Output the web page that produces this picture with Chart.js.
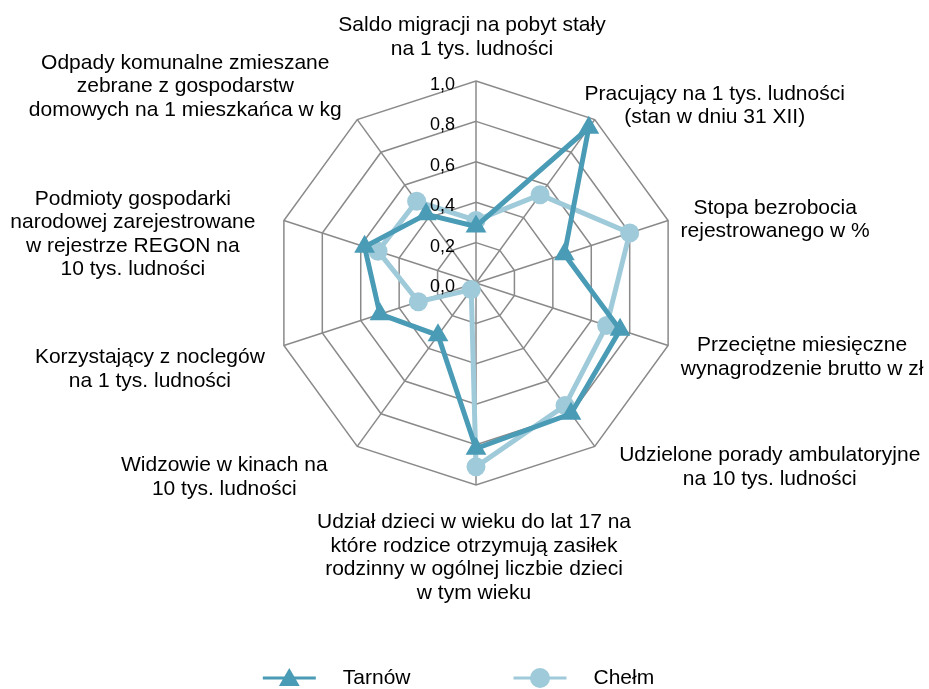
<!DOCTYPE html>
<html lang="pl">
<head>
<meta charset="utf-8">
<title>Tarnów i Chełm – wskaźniki</title>
<script src="https://cdn.jsdelivr.net/npm/chart.js@4.4.1/dist/chart.umd.min.js"></script>
<style>
  html, body { margin: 0; padding: 0; background: #fff; }
  #wrap { width: 929px; height: 689px; }
</style>
</head>
<body>
<div id="wrap"><canvas id="radarChart" width="929" height="689"></canvas></div>
<script>
/* globals Chart */

// Axis names, one array of lines per spoke (clockwise from the top)
const categories = [
    ['Saldo migracji na pobyt stały', 'na 1 tys. ludności'],
    ['Pracujący na 1 tys. ludności', '(stan w dniu 31 XII)'],
    ['Stopa bezrobocia', 'rejestrowanego w %'],
    ['Przeciętne miesięczne', 'wynagrodzenie brutto w zł'],
    ['Udzielone porady ambulatoryjne', 'na 10 tys. ludności'],
    ['Udział dzieci w wieku do lat 17 na', 'które rodzice otrzymują zasiłek', 'rodzinny w ogólnej liczbie dzieci', 'w tym wieku'],
    ['Widzowie w kinach na', '10 tys. ludności'],
    ['Korzystający z noclegów', 'na 1 tys. ludności'],
    ['Podmioty gospodarki', 'narodowej zarejestrowane', 'w rejestrze REGON na', '10 tys. ludności'],
    ['Odpady komunalne zmieszane', 'zebrane z gospodarstw', 'domowych na 1 mieszkańca w kg']
];

const seriesNames = ['Tarnów', 'Chełm'];
const tarnowValues = [0.28, 0.95, 0.46, 0.75, 0.80, 0.82, 0.32, 0.50, 0.58, 0.42];
const chelmValues = [0.31, 0.54, 0.80, 0.68, 0.75, 0.91, 0.04, 0.30, 0.51, 0.50];
const tickValues = [0, 0.2, 0.4, 0.6, 0.8, 1.0];

const FONT = 'Arial, "Liberation Sans", sans-serif';
const TARNOW_COLOR = '#4a9bb5';
const CHELM_COLOR = '#9fcad9';
const GRID_COLOR = '#8a8a8a';

// Where each axis name sits: centre x and first baseline, relative to the outer vertex
const labelOffsets = [
    [-4, -50], [120, -20], [107, -7], [134, 6], [175, 15],
    [-2, 43], [-133, 25], [-134, 18], [-151, -16], [-172, -51]
];
const labelLineHeight = 23.5;

const formatTick = v => v.toFixed(1).replace('.', ',');

function drawMarker(ctx, style, x, y, r) {
    ctx.beginPath();
    if (style === 'triangle') {
        ctx.moveTo(x, y - r);
        ctx.lineTo(x + r * Math.sqrt(3) / 2, y + r / 2);
        ctx.lineTo(x - r * Math.sqrt(3) / 2, y + r / 2);
        ctx.closePath();
    } else {
        ctx.arc(x, y, r, 0, Math.PI * 2);
    }
    ctx.fill();
}

const axisLabels = {
    id: 'axisLabels',
    afterDatasetsDraw(chart) {
        const scale = chart.scales.r;
        const ctx = chart.ctx;
        ctx.save();
        ctx.fillStyle = '#000';

        // value ticks on the vertical spoke
        ctx.font = `18px ${FONT}`;
        ctx.textAlign = 'right';
        ctx.textBaseline = 'middle';
        scale.ticks.forEach(t => {
            const y = scale.yCenter - scale.getDistanceFromCenterForValue(t.value);
            ctx.fillText(formatTick(t.value), scale.xCenter - 21, y + 4);
        });

        // spoke names
        ctx.font = `21px ${FONT}`;
        ctx.textAlign = 'center';
        ctx.textBaseline = 'alphabetic';
        chart.data.labels.forEach((lines, i) => {
            const p = scale.getPointPosition(i, scale.drawingArea);
            const [dx, dy] = labelOffsets[i];
            lines.forEach((line, k) => {
                ctx.fillText(line, p.x + dx, p.y + dy + k * labelLineHeight);
            });
        });
        ctx.restore();
    }
};

const lineLegend = {
    id: 'lineLegend',
    afterDraw(chart) {
        const ctx = chart.ctx;
        const iconW = 53, textGap = 27, itemGap = 103;
        const y = chart.height - 11;
        ctx.save();
        ctx.font = `21px ${FONT}`;
        const widths = chart.data.datasets.map(ds => iconW + textGap + ctx.measureText(ds.label).width);
        const total = widths.reduce((a, b) => a + b, 0) + itemGap * (widths.length - 1);
        let x = (chart.width - total) / 2 - 6;
        chart.data.datasets.forEach((ds, i) => {
            ctx.strokeStyle = ds.borderColor;
            ctx.fillStyle = ds.borderColor;
            ctx.lineWidth = 3;
            ctx.beginPath();
            ctx.moveTo(x, y);
            ctx.lineTo(x + iconW, y);
            ctx.stroke();
            drawMarker(ctx, ds.pointStyle, x + iconW / 2, y + (ds.pointStyle === 'triangle' ? 2 : 0), ds.pointStyle === 'triangle' ? 12 : 10);
            ctx.fillStyle = '#000';
            ctx.textAlign = 'left';
            ctx.textBaseline = 'middle';
            ctx.fillText(ds.label, x + iconW + textGap, y);
            x += widths[i] + itemGap;
        });
        ctx.restore();
    }
};

const ctx = document.getElementById('radarChart').getContext('2d');
new Chart(ctx, {
    type: 'radar',
    data: {
        labels: categories,
        datasets: [
            {
                label: seriesNames[0],
                data: tarnowValues,
                borderColor: TARNOW_COLOR,
                backgroundColor: TARNOW_COLOR,
                pointBackgroundColor: TARNOW_COLOR,
                pointBorderColor: TARNOW_COLOR,
                borderWidth: 5,
                pointStyle: 'triangle',
                pointRadius: 12,
                pointBorderWidth: 0,
                fill: false
            },
            {
                label: seriesNames[1],
                data: chelmValues,
                borderColor: CHELM_COLOR,
                backgroundColor: CHELM_COLOR,
                pointBackgroundColor: CHELM_COLOR,
                pointBorderColor: CHELM_COLOR,
                borderWidth: 5,
                pointStyle: 'circle',
                pointRadius: 9.5,
                pointBorderWidth: 0,
                fill: false
            }
        ]
    },
    options: {
        responsive: false,
        animation: false,
        events: [],
        layout: { padding: { left: 23, right: 0, top: 81, bottom: 204 } },
        plugins: {
            legend: { display: false },
            tooltip: { enabled: false }
        },
        scales: {
            r: {
                min: tickValues[0],
                max: tickValues[tickValues.length - 1],
                ticks: { stepSize: 0.2, display: false },
                pointLabels: { display: false },
                grid: { color: GRID_COLOR, lineWidth: 1.5 },
                angleLines: { color: GRID_COLOR, lineWidth: 1.5 }
            }
        }
    },
    plugins: [axisLabels, lineLegend]
});
</script>
</body>
</html>
